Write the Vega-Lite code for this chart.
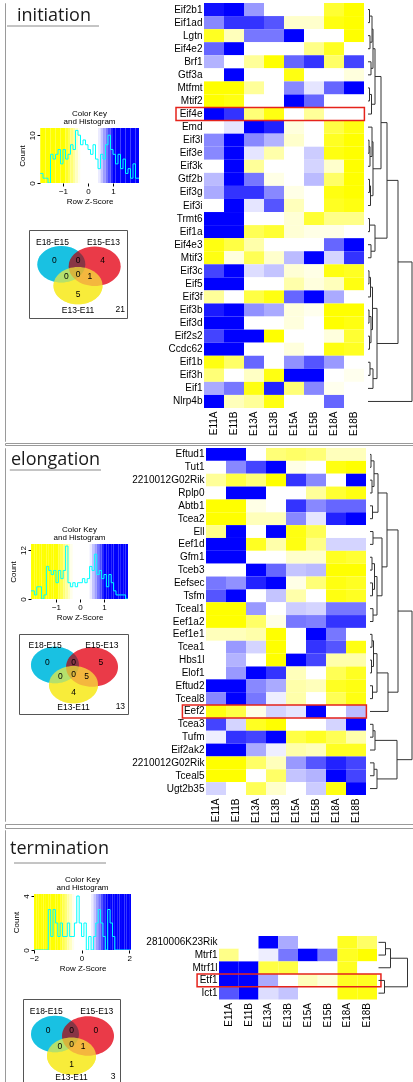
{
"$schema": "https://vega.github.io/schema/vega-lite/v6.json",
"background": "white",
"padding": {"left": 4, "top": 2, "right": 0, "bottom": 0},
"config": {
  "view": {"stroke": null},
  "font": "Liberation Sans",
  "axis": {"labelFont": "Liberation Sans", "titleFont": "Liberation Sans", "labelColor": "#000", "titleColor": "#000", "tickColor": "#000", "grid": false},
  "title": {"font": "Liberation Sans", "color": "#000"},
  "concat": {"spacing": 0}
},
"datasets": {
  "empty": [],
  "vc": [{"set": "c", "x": 33, "y": 35}, {"set": "r", "x": 67, "y": 37}, {"set": "y", "x": 50, "y": 57}],
  "vt1": [{"x": 24, "y": 12, "t": "E18-E15"}, {"x": 76, "y": 12, "t": "E15-E13"}, {"x": 26, "y": 31, "t": "0"}, {"x": 50, "y": 31, "t": "0"}, {"x": 75, "y": 31, "t": "4"}, {"x": 38, "y": 47, "t": "0"}, {"x": 50, "y": 45, "t": "0"}, {"x": 62, "y": 47, "t": "1"}, {"x": 50, "y": 65, "t": "5"}, {"x": 50, "y": 82, "t": "E13-E11"}, {"x": 93, "y": 81, "t": "21"}],
  "vt2": [{"x": 24, "y": 12, "t": "E18-E15"}, {"x": 76, "y": 12, "t": "E15-E13"}, {"x": 26, "y": 31, "t": "0"}, {"x": 50, "y": 31, "t": "0"}, {"x": 75, "y": 31, "t": "5"}, {"x": 38, "y": 47, "t": "0"}, {"x": 50, "y": 45, "t": "0"}, {"x": 62, "y": 47, "t": "5"}, {"x": 50, "y": 65, "t": "4"}, {"x": 50, "y": 82, "t": "E13-E11"}, {"x": 93, "y": 81, "t": "13"}],
  "vt3": [{"x": 24, "y": 12, "t": "E18-E15"}, {"x": 76, "y": 12, "t": "E15-E13"}, {"x": 26, "y": 31, "t": "0"}, {"x": 50, "y": 31, "t": "0"}, {"x": 75, "y": 31, "t": "0"}, {"x": 38, "y": 47, "t": "0"}, {"x": 50, "y": 45, "t": "0"}, {"x": 62, "y": 47, "t": "1"}, {"x": 50, "y": 65, "t": "1"}, {"x": 50, "y": 78, "t": "E13-E11"}, {"x": 93, "y": 77, "t": "3"}],
  "k1": [{"z0":-2.0,"z1":-1.9,"n":2},{"z0":-1.9,"z1":-1.8,"n":2},{"z0":-1.8,"z1":-1.7,"n":1},{"z0":-1.7,"z1":-1.6,"n":1},{"z0":-1.6,"z1":-1.5,"n":0},{"z0":-1.5,"z1":-1.4,"n":6},{"z0":-1.4,"z1":-1.3,"n":5},{"z0":-1.3,"z1":-1.2,"n":6},{"z0":-1.2,"z1":-1.1,"n":7},{"z0":-1.1,"z1":-1.0,"n":4},{"z0":-1.0,"z1":-0.9,"n":7},{"z0":-0.9,"z1":-0.8,"n":5},{"z0":-0.8,"z1":-0.7,"n":6},{"z0":-0.7,"z1":-0.6,"n":8},{"z0":-0.6,"z1":-0.5,"n":7},{"z0":-0.5,"z1":-0.4,"n":11},{"z0":-0.4,"z1":-0.3,"n":10},{"z0":-0.3,"z1":-0.2,"n":8},{"z0":-0.2,"z1":-0.1,"n":9},{"z0":-0.1,"z1":0.0,"n":8},{"z0":0.0,"z1":0.1,"n":7},{"z0":0.1,"z1":0.2,"n":6},{"z0":0.2,"z1":0.3,"n":8},{"z0":0.3,"z1":0.4,"n":5},{"z0":0.4,"z1":0.5,"n":3},{"z0":0.5,"z1":0.6,"n":6},{"z0":0.6,"z1":0.7,"n":5},{"z0":0.7,"z1":0.8,"n":8},{"z0":0.8,"z1":0.9,"n":10},{"z0":0.9,"z1":1.0,"n":7},{"z0":1.0,"z1":1.1,"n":6},{"z0":1.1,"z1":1.2,"n":4},{"z0":1.2,"z1":1.3,"n":6},{"z0":1.3,"z1":1.4,"n":3},{"z0":1.4,"z1":1.5,"n":5},{"z0":1.5,"z1":1.6,"n":2},{"z0":1.6,"z1":1.7,"n":3},{"z0":1.7,"z1":1.8,"n":1},{"z0":1.8,"z1":1.9,"n":4},{"z0":1.9,"z1":2.0,"n":1},{"z0":2.0,"z1":2.1,"n":1},{"z0":2.1,"z1":2.1,"n":1}],
  "k2": [{"z0":-2.1,"z1":-2.0,"n":2},{"z0":-2.0,"z1":-1.9,"n":2},{"z0":-1.9,"z1":-1.8,"n":1},{"z0":-1.8,"z1":-1.7,"n":3},{"z0":-1.7,"z1":-1.6,"n":3},{"z0":-1.6,"z1":-1.5,"n":0},{"z0":-1.5,"z1":-1.4,"n":1},{"z0":-1.4,"z1":-1.3,"n":8},{"z0":-1.3,"z1":-1.2,"n":7},{"z0":-1.2,"z1":-1.1,"n":6},{"z0":-1.1,"z1":-1.0,"n":7},{"z0":-1.0,"z1":-0.9,"n":4},{"z0":-0.9,"z1":-0.8,"n":7},{"z0":-0.8,"z1":-0.7,"n":5},{"z0":-0.7,"z1":-0.6,"n":7},{"z0":-0.6,"z1":-0.5,"n":13},{"z0":-0.5,"z1":-0.4,"n":4},{"z0":-0.4,"z1":-0.3,"n":3},{"z0":-0.3,"z1":-0.2,"n":4},{"z0":-0.2,"z1":-0.1,"n":3},{"z0":-0.1,"z1":0.0,"n":4},{"z0":0.0,"z1":0.1,"n":4},{"z0":0.1,"z1":0.2,"n":5},{"z0":0.2,"z1":0.3,"n":4},{"z0":0.3,"z1":0.4,"n":5},{"z0":0.4,"z1":0.5,"n":8},{"z0":0.5,"z1":0.6,"n":7},{"z0":0.6,"z1":0.7,"n":11},{"z0":0.7,"z1":0.8,"n":6},{"z0":0.8,"z1":0.9,"n":7},{"z0":0.9,"z1":1.0,"n":5},{"z0":1.0,"z1":1.1,"n":6},{"z0":1.1,"z1":1.2,"n":3},{"z0":1.2,"z1":1.3,"n":6},{"z0":1.3,"z1":1.4,"n":4},{"z0":1.4,"z1":1.5,"n":2},{"z0":1.5,"z1":1.6,"n":1},{"z0":1.6,"z1":1.7,"n":1},{"z0":1.7,"z1":1.8,"n":1},{"z0":1.8,"z1":1.9,"n":1},{"z0":1.9,"z1":2.0,"n":0},{"z0":2.0,"z1":2.0,"n":0}],
  "k3": [{"z0":-2.0,"z1":-1.9,"n":0},{"z0":-1.9,"z1":-1.8,"n":0},{"z0":-1.8,"z1":-1.7,"n":0},{"z0":-1.7,"z1":-1.6,"n":0},{"z0":-1.6,"z1":-1.5,"n":0},{"z0":-1.5,"z1":-1.4,"n":0},{"z0":-1.4,"z1":-1.3,"n":3},{"z0":-1.3,"z1":-1.2,"n":1},{"z0":-1.2,"z1":-1.1,"n":3},{"z0":-1.1,"z1":-1.0,"n":2},{"z0":-1.0,"z1":-0.9,"n":1},{"z0":-0.9,"z1":-0.8,"n":2},{"z0":-0.8,"z1":-0.7,"n":1},{"z0":-0.7,"z1":-0.6,"n":1},{"z0":-0.6,"z1":-0.5,"n":2},{"z0":-0.5,"z1":-0.4,"n":1},{"z0":-0.4,"z1":-0.3,"n":1},{"z0":-0.3,"z1":-0.2,"n":2},{"z0":-0.2,"z1":-0.1,"n":4},{"z0":-0.1,"z1":0.0,"n":2},{"z0":0.0,"z1":0.1,"n":1},{"z0":0.1,"z1":0.2,"n":2},{"z0":0.2,"z1":0.3,"n":0},{"z0":0.3,"z1":0.4,"n":1},{"z0":0.4,"z1":0.5,"n":0},{"z0":0.5,"z1":0.6,"n":1},{"z0":0.6,"z1":0.7,"n":2},{"z0":0.7,"z1":0.8,"n":3},{"z0":0.8,"z1":0.9,"n":2},{"z0":0.9,"z1":1.0,"n":1},{"z0":1.0,"z1":1.1,"n":0},{"z0":1.1,"z1":1.2,"n":3},{"z0":1.2,"z1":1.3,"n":2},{"z0":1.3,"z1":1.4,"n":1},{"z0":1.4,"z1":1.5,"n":0},{"z0":1.5,"z1":1.6,"n":0},{"z0":1.6,"z1":1.7,"n":0},{"z0":1.7,"z1":1.8,"n":0},{"z0":1.8,"z1":1.9,"n":0},{"z0":1.9,"z1":2.0,"n":0},{"z0":2.0,"z1":2.1,"n":0},{"z0":2.1,"z1":2.1,"n":0}],
  "d1": [{"y1":0.5,"y2":1.5,"h1":0,"h2":0,"h":1.5},{"y1":2.5,"y2":3.5,"h1":0,"h2":0,"h":2},{"y1":1.0,"y2":3.0,"h1":1.5,"h2":2,"h":4},{"y1":4.5,"y2":5.5,"h1":0,"h2":0,"h":3},{"y1":2.0,"y2":5.0,"h1":4,"h2":3,"h":5},{"y1":6.5,"y2":7.5,"h1":0,"h2":0,"h":1.5},{"y1":7.0,"y2":8.5,"h1":1.5,"h2":0,"h":3.5},{"y1":3.5,"y2":7.75,"h1":5,"h2":3.5,"h":7},{"y1":10.5,"y2":11.5,"h1":0,"h2":0,"h":1},{"y1":11.0,"y2":12.5,"h1":1,"h2":0,"h":2},{"y1":9.5,"y2":11.75,"h1":0,"h2":2,"h":4},{"y1":13.5,"y2":14.5,"h1":0,"h2":0,"h":1.5},{"y1":14.0,"y2":15.5,"h1":1.5,"h2":0,"h":2.5},{"y1":10.625,"y2":14.75,"h1":4,"h2":2.5,"h":5},{"y1":5.625,"y2":12.6875,"h1":7,"h2":5,"h":13},{"y1":16.5,"y2":17.5,"h1":0,"h2":0,"h":1.5},{"y1":18.5,"y2":19.5,"h1":0,"h2":0,"h":3},{"y1":17.0,"y2":19.0,"h1":1.5,"h2":3,"h":7},{"y1":9.156,"y2":18.0,"h1":13,"h2":7,"h":19},{"y1":20.5,"y2":21.5,"h1":0,"h2":0,"h":1},{"y1":21.0,"y2":22.5,"h1":1,"h2":0,"h":2.5},{"y1":23.5,"y2":24.5,"h1":0,"h2":0,"h":1},{"y1":25.5,"y2":26.5,"h1":0,"h2":0,"h":1.5},{"y1":24.0,"y2":26.0,"h1":1,"h2":1.5,"h":3},{"y1":21.75,"y2":25.0,"h1":2.5,"h2":3,"h":4.5},{"y1":27.5,"y2":28.5,"h1":0,"h2":0,"h":2},{"y1":28.0,"y2":29.5,"h1":2,"h2":0,"h":5},{"y1":23.375,"y2":28.75,"h1":4.5,"h2":5,"h":9},{"y1":13.578,"y2":26.0625,"h1":19,"h2":9,"h":30},{"y1":19.82,"y2":30.5,"h1":30,"h2":0,"h":44}],
  "d2": [{"y1":0.5,"y2":1.5,"h1":0,"h2":0,"h":1},{"y1":2.5,"y2":3.5,"h1":0,"h2":0,"h":2},{"y1":1.0,"y2":3.0,"h1":1,"h2":2,"h":4},{"y1":4.5,"y2":5.5,"h1":0,"h2":0,"h":2.5},{"y1":2.0,"y2":5.0,"h1":4,"h2":2.5,"h":8},{"y1":6.5,"y2":7.5,"h1":0,"h2":0,"h":3},{"y1":8.5,"y2":9.5,"h1":0,"h2":0,"h":2},{"y1":10.5,"y2":11.5,"h1":0,"h2":0,"h":2.5},{"y1":9.0,"y2":11.0,"h1":2,"h2":2.5,"h":4.5},{"y1":12.5,"y2":13.5,"h1":0,"h2":0,"h":3},{"y1":10.0,"y2":13.0,"h1":4.5,"h2":3,"h":7},{"y1":7.0,"y2":11.5,"h1":3,"h2":7,"h":12},{"y1":3.5,"y2":9.25,"h1":8,"h2":12,"h":17},{"y1":14.5,"y2":15.5,"h1":0,"h2":0,"h":2},{"y1":16.5,"y2":17.5,"h1":0,"h2":0,"h":1.5},{"y1":15.0,"y2":17.0,"h1":2,"h2":1.5,"h":3.5},{"y1":18.5,"y2":19.5,"h1":0,"h2":0,"h":2.5},{"y1":16.0,"y2":19.0,"h1":3.5,"h2":2.5,"h":7},{"y1":17.5,"y2":20.5,"h1":7,"h2":0,"h":18},{"y1":6.375,"y2":19.0,"h1":17,"h2":18,"h":28},{"y1":21.5,"y2":22.5,"h1":0,"h2":0,"h":3},{"y1":22.0,"y2":23.5,"h1":3,"h2":0,"h":5},{"y1":24.5,"y2":25.5,"h1":0,"h2":0,"h":4},{"y1":25.0,"y2":26.5,"h1":4,"h2":0,"h":7},{"y1":22.75,"y2":25.75,"h1":5,"h2":7,"h":27},{"y1":12.6875,"y2":24.25,"h1":28,"h2":27,"h":42}],
  "d3": [{"y1":0.5,"y2":1.5,"h1":0,"h2":0,"h":7},{"y1":1.0,"y2":2.5,"h1":7,"h2":0,"h":12},{"y1":3.5,"y2":4.5,"h1":0,"h2":0,"h":6},{"y1":1.75,"y2":4.0,"h1":12,"h2":6,"h":29}],
  "h1": [
{"g":"Eif2b1","s":"E11A","v":1.4},{"g":"Eif2b1","s":"E11B","v":1.5},{"g":"Eif2b1","s":"E13A","v":0.6},{"g":"Eif2b1","s":"E13B","v":0},{"g":"Eif2b1","s":"E15A","v":0},{"g":"Eif2b1","s":"E15B","v":0},{"g":"Eif2b1","s":"E18A","v":-1.2},{"g":"Eif2b1","s":"E18B","v":-1.5},
{"g":"Eif1ad","s":"E11A","v":0.7},{"g":"Eif1ad","s":"E11B","v":1.2},{"g":"Eif1ad","s":"E13A","v":1.2},{"g":"Eif1ad","s":"E13B","v":1.0},{"g":"Eif1ad","s":"E15A","v":-0.3},{"g":"Eif1ad","s":"E15B","v":-0.3},{"g":"Eif1ad","s":"E18A","v":-1.4},{"g":"Eif1ad","s":"E18B","v":-1.5},
{"g":"Lgtn","s":"E11A","v":-1.3},{"g":"Lgtn","s":"E11B","v":-0.4},{"g":"Lgtn","s":"E13A","v":0.8},{"g":"Lgtn","s":"E13B","v":0.8},{"g":"Lgtn","s":"E15A","v":1.5},{"g":"Lgtn","s":"E15B","v":0},{"g":"Lgtn","s":"E18A","v":0},{"g":"Lgtn","s":"E18B","v":-1.5},
{"g":"Eif4e2","s":"E11A","v":0.9},{"g":"Eif4e2","s":"E11B","v":1.5},{"g":"Eif4e2","s":"E13A","v":0},{"g":"Eif4e2","s":"E13B","v":0},{"g":"Eif4e2","s":"E15A","v":0},{"g":"Eif4e2","s":"E15B","v":-0.7},{"g":"Eif4e2","s":"E18A","v":-1.3},{"g":"Eif4e2","s":"E18B","v":0},
{"g":"Brf1","s":"E11A","v":0.45},{"g":"Brf1","s":"E11B","v":0},{"g":"Brf1","s":"E13A","v":-0.6},{"g":"Brf1","s":"E13B","v":-1.5},{"g":"Brf1","s":"E15A","v":0.9},{"g":"Brf1","s":"E15B","v":1.2},{"g":"Brf1","s":"E18A","v":-0.9},{"g":"Brf1","s":"E18B","v":1.1},
{"g":"Gtf3a","s":"E11A","v":0},{"g":"Gtf3a","s":"E11B","v":1.5},{"g":"Gtf3a","s":"E13A","v":0},{"g":"Gtf3a","s":"E13B","v":0},{"g":"Gtf3a","s":"E15A","v":-1.4},{"g":"Gtf3a","s":"E15B","v":0},{"g":"Gtf3a","s":"E18A","v":0},{"g":"Gtf3a","s":"E18B","v":-0.2},
{"g":"Mtfmt","s":"E11A","v":-1.5},{"g":"Mtfmt","s":"E11B","v":-1.5},{"g":"Mtfmt","s":"E13A","v":-0.6},{"g":"Mtfmt","s":"E13B","v":0},{"g":"Mtfmt","s":"E15A","v":0.7},{"g":"Mtfmt","s":"E15B","v":0.15},{"g":"Mtfmt","s":"E18A","v":0.9},{"g":"Mtfmt","s":"E18B","v":1.5},
{"g":"Mtif2","s":"E11A","v":-1.5},{"g":"Mtif2","s":"E11B","v":-1.4},{"g":"Mtif2","s":"E13A","v":0},{"g":"Mtif2","s":"E13B","v":0},{"g":"Mtif2","s":"E15A","v":1.5},{"g":"Mtif2","s":"E15B","v":0.9},{"g":"Mtif2","s":"E18A","v":0},{"g":"Mtif2","s":"E18B","v":0},
{"g":"Eif4e","s":"E11A","v":1.5},{"g":"Eif4e","s":"E11B","v":1.2},{"g":"Eif4e","s":"E13A","v":-0.8},{"g":"Eif4e","s":"E13B","v":-1.4},{"g":"Eif4e","s":"E15A","v":0},{"g":"Eif4e","s":"E15B","v":-0.6},{"g":"Eif4e","s":"E18A","v":0},{"g":"Eif4e","s":"E18B","v":0},
{"g":"Emd","s":"E11A","v":0},{"g":"Emd","s":"E11B","v":0.15},{"g":"Emd","s":"E13A","v":1.5},{"g":"Emd","s":"E13B","v":1.3},{"g":"Emd","s":"E15A","v":-0.2},{"g":"Emd","s":"E15B","v":0},{"g":"Emd","s":"E18A","v":-1.1},{"g":"Emd","s":"E18B","v":-1.4},
{"g":"Eif3l","s":"E11A","v":0.7},{"g":"Eif3l","s":"E11B","v":1.5},{"g":"Eif3l","s":"E13A","v":0.7},{"g":"Eif3l","s":"E13B","v":0.45},{"g":"Eif3l","s":"E15A","v":-0.3},{"g":"Eif3l","s":"E15B","v":0},{"g":"Eif3l","s":"E18A","v":-1.3},{"g":"Eif3l","s":"E18B","v":-1.5},
{"g":"Eif3e","s":"E11A","v":0.7},{"g":"Eif3e","s":"E11B","v":1.5},{"g":"Eif3e","s":"E13A","v":0.15},{"g":"Eif3e","s":"E13B","v":-0.5},{"g":"Eif3e","s":"E15A","v":0},{"g":"Eif3e","s":"E15B","v":0.3},{"g":"Eif3e","s":"E18A","v":-1.4},{"g":"Eif3e","s":"E18B","v":-1.5},
{"g":"Eif3k","s":"E11A","v":0},{"g":"Eif3k","s":"E11B","v":1.5},{"g":"Eif3k","s":"E13A","v":-0.6},{"g":"Eif3k","s":"E13B","v":0},{"g":"Eif3k","s":"E15A","v":0},{"g":"Eif3k","s":"E15B","v":0.25},{"g":"Eif3k","s":"E18A","v":-0.3},{"g":"Eif3k","s":"E18B","v":-1.5},
{"g":"Gtf2b","s":"E11A","v":0.4},{"g":"Gtf2b","s":"E11B","v":1.5},{"g":"Gtf2b","s":"E13A","v":0.8},{"g":"Gtf2b","s":"E13B","v":-0.15},{"g":"Gtf2b","s":"E15A","v":0},{"g":"Gtf2b","s":"E15B","v":0.4},{"g":"Gtf2b","s":"E18A","v":-0.9},{"g":"Gtf2b","s":"E18B","v":-1.5},
{"g":"Eif3g","s":"E11A","v":0.5},{"g":"Eif3g","s":"E11B","v":1.2},{"g":"Eif3g","s":"E13A","v":1.2},{"g":"Eif3g","s":"E13B","v":0.7},{"g":"Eif3g","s":"E15A","v":-0.15},{"g":"Eif3g","s":"E15B","v":0},{"g":"Eif3g","s":"E18A","v":-1.4},{"g":"Eif3g","s":"E18B","v":-1.5},
{"g":"Eif3i","s":"E11A","v":0},{"g":"Eif3i","s":"E11B","v":1.5},{"g":"Eif3i","s":"E13A","v":0.15},{"g":"Eif3i","s":"E13B","v":1.0},{"g":"Eif3i","s":"E15A","v":-0.4},{"g":"Eif3i","s":"E15B","v":0},{"g":"Eif3i","s":"E18A","v":-1.3},{"g":"Eif3i","s":"E18B","v":-1.4},
{"g":"Trmt6","s":"E11A","v":1.5},{"g":"Trmt6","s":"E11B","v":1.5},{"g":"Trmt6","s":"E13A","v":0},{"g":"Trmt6","s":"E13B","v":0},{"g":"Trmt6","s":"E15A","v":-0.25},{"g":"Trmt6","s":"E15B","v":-1.2},{"g":"Trmt6","s":"E18A","v":-0.7},{"g":"Trmt6","s":"E18B","v":-0.7},
{"g":"Eif1a","s":"E11A","v":1.5},{"g":"Eif1a","s":"E11B","v":1.5},{"g":"Eif1a","s":"E13A","v":-1.0},{"g":"Eif1a","s":"E13B","v":-1.2},{"g":"Eif1a","s":"E15A","v":-0.25},{"g":"Eif1a","s":"E15B","v":-0.15},{"g":"Eif1a","s":"E18A","v":-0.15},{"g":"Eif1a","s":"E18B","v":0},
{"g":"Eif4e3","s":"E11A","v":-1.4},{"g":"Eif4e3","s":"E11B","v":-1.1},{"g":"Eif4e3","s":"E13A","v":-0.5},{"g":"Eif4e3","s":"E13B","v":0},{"g":"Eif4e3","s":"E15A","v":0},{"g":"Eif4e3","s":"E15B","v":0},{"g":"Eif4e3","s":"E18A","v":0.9},{"g":"Eif4e3","s":"E18B","v":1.5},
{"g":"Mtif3","s":"E11A","v":-1.4},{"g":"Mtif3","s":"E11B","v":-0.2},{"g":"Mtif3","s":"E13A","v":-1.0},{"g":"Mtif3","s":"E13B","v":-0.3},{"g":"Mtif3","s":"E15A","v":0.4},{"g":"Mtif3","s":"E15B","v":1.5},{"g":"Mtif3","s":"E18A","v":0.25},{"g":"Mtif3","s":"E18B","v":1.2},
{"g":"Eif3c","s":"E11A","v":1.1},{"g":"Eif3c","s":"E11B","v":1.5},{"g":"Eif3c","s":"E13A","v":0.2},{"g":"Eif3c","s":"E13B","v":0.35},{"g":"Eif3c","s":"E15A","v":-0.25},{"g":"Eif3c","s":"E15B","v":-0.15},{"g":"Eif3c","s":"E18A","v":-1.4},{"g":"Eif3c","s":"E18B","v":-1.3},
{"g":"Eif5","s":"E11A","v":1.5},{"g":"Eif5","s":"E11B","v":1.5},{"g":"Eif5","s":"E13A","v":0},{"g":"Eif5","s":"E13B","v":0},{"g":"Eif5","s":"E15A","v":-0.5},{"g":"Eif5","s":"E15B","v":-0.2},{"g":"Eif5","s":"E18A","v":-0.4},{"g":"Eif5","s":"E18B","v":-1.4},
{"g":"Eif3f","s":"E11A","v":-0.6},{"g":"Eif3f","s":"E11B","v":0},{"g":"Eif3f","s":"E13A","v":-1.1},{"g":"Eif3f","s":"E13B","v":-1.4},{"g":"Eif3f","s":"E15A","v":0.9},{"g":"Eif3f","s":"E15B","v":1.5},{"g":"Eif3f","s":"E18A","v":0.5},{"g":"Eif3f","s":"E18B","v":0},
{"g":"Eif3b","s":"E11A","v":1.35},{"g":"Eif3b","s":"E11B","v":1.5},{"g":"Eif3b","s":"E13A","v":0.65},{"g":"Eif3b","s":"E13B","v":0.5},{"g":"Eif3b","s":"E15A","v":-0.2},{"g":"Eif3b","s":"E15B","v":-0.1},{"g":"Eif3b","s":"E18A","v":-1.5},{"g":"Eif3b","s":"E18B","v":-1.5},
{"g":"Eif3d","s":"E11A","v":1.5},{"g":"Eif3d","s":"E11B","v":1.5},{"g":"Eif3d","s":"E13A","v":0},{"g":"Eif3d","s":"E13B","v":0},{"g":"Eif3d","s":"E15A","v":-0.2},{"g":"Eif3d","s":"E15B","v":0},{"g":"Eif3d","s":"E18A","v":-1.5},{"g":"Eif3d","s":"E18B","v":-1.4},
{"g":"Eif2s2","s":"E11A","v":1.1},{"g":"Eif2s2","s":"E11B","v":1.5},{"g":"Eif2s2","s":"E13A","v":1.5},{"g":"Eif2s2","s":"E13B","v":-1.5},{"g":"Eif2s2","s":"E15A","v":0},{"g":"Eif2s2","s":"E15B","v":0},{"g":"Eif2s2","s":"E18A","v":-0.2},{"g":"Eif2s2","s":"E18B","v":-1.2},
{"g":"Ccdc62","s":"E11A","v":1.5},{"g":"Ccdc62","s":"E11B","v":1.5},{"g":"Ccdc62","s":"E13A","v":0},{"g":"Ccdc62","s":"E13B","v":0},{"g":"Ccdc62","s":"E15A","v":-0.2},{"g":"Ccdc62","s":"E15B","v":0},{"g":"Ccdc62","s":"E18A","v":-1.4},{"g":"Ccdc62","s":"E18B","v":-1.3},
{"g":"Eif1b","s":"E11A","v":-1.4},{"g":"Eif1b","s":"E11B","v":-0.9},{"g":"Eif1b","s":"E13A","v":0.9},{"g":"Eif1b","s":"E13B","v":0},{"g":"Eif1b","s":"E15A","v":0.65},{"g":"Eif1b","s":"E15B","v":1.0},{"g":"Eif1b","s":"E18A","v":0.6},{"g":"Eif1b","s":"E18B","v":0},
{"g":"Eif3h","s":"E11A","v":-0.8},{"g":"Eif3h","s":"E11B","v":0},{"g":"Eif3h","s":"E13A","v":-0.35},{"g":"Eif3h","s":"E13B","v":-1.4},{"g":"Eif3h","s":"E15A","v":1.5},{"g":"Eif3h","s":"E15B","v":1.5},{"g":"Eif3h","s":"E18A","v":0},{"g":"Eif3h","s":"E18B","v":-0.1},
{"g":"Eif1","s":"E11A","v":0.5},{"g":"Eif1","s":"E11B","v":0.8},{"g":"Eif1","s":"E13A","v":-1.4},{"g":"Eif1","s":"E13B","v":1.3},{"g":"Eif1","s":"E15A","v":-0.8},{"g":"Eif1","s":"E15B","v":0.7},{"g":"Eif1","s":"E18A","v":-0.1},{"g":"Eif1","s":"E18B","v":0},
{"g":"Nlrp4b","s":"E11A","v":1.5},{"g":"Nlrp4b","s":"E11B","v":-0.4},{"g":"Nlrp4b","s":"E13A","v":-0.6},{"g":"Nlrp4b","s":"E13B","v":-1.4},{"g":"Nlrp4b","s":"E15A","v":0},{"g":"Nlrp4b","s":"E15B","v":0},{"g":"Nlrp4b","s":"E18A","v":0.9},{"g":"Nlrp4b","s":"E18B","v":0}
  ],
  "h2": [
{"g":"Eftud1","s":"E11A","v":1.5},{"g":"Eftud1","s":"E11B","v":1.5},{"g":"Eftud1","s":"E13A","v":0},{"g":"Eftud1","s":"E13B","v":-0.8},{"g":"Eftud1","s":"E15A","v":-0.9},{"g":"Eftud1","s":"E15B","v":-0.8},{"g":"Eftud1","s":"E18A","v":-0.4},{"g":"Eftud1","s":"E18B","v":-0.4},
{"g":"Tut1","s":"E11A","v":0},{"g":"Tut1","s":"E11B","v":0.7},{"g":"Tut1","s":"E13A","v":1.1},{"g":"Tut1","s":"E13B","v":1.5},{"g":"Tut1","s":"E15A","v":-0.15},{"g":"Tut1","s":"E15B","v":0},{"g":"Tut1","s":"E18A","v":-1.4},{"g":"Tut1","s":"E18B","v":-1.5},
{"g":"2210012G02Rik","s":"E11A","v":-0.6},{"g":"2210012G02Rik","s":"E11B","v":-1.1},{"g":"2210012G02Rik","s":"E13A","v":-0.8},{"g":"2210012G02Rik","s":"E13B","v":-1.5},{"g":"2210012G02Rik","s":"E15A","v":1.2},{"g":"2210012G02Rik","s":"E15B","v":0.7},{"g":"2210012G02Rik","s":"E18A","v":0},{"g":"2210012G02Rik","s":"E18B","v":1.5},
{"g":"Rplp0","s":"E11A","v":0},{"g":"Rplp0","s":"E11B","v":1.5},{"g":"Rplp0","s":"E13A","v":1.5},{"g":"Rplp0","s":"E13B","v":0},{"g":"Rplp0","s":"E15A","v":0},{"g":"Rplp0","s":"E15B","v":-0.6},{"g":"Rplp0","s":"E18A","v":-1.2},{"g":"Rplp0","s":"E18B","v":-1.4},
{"g":"Abtb1","s":"E11A","v":-1.5},{"g":"Abtb1","s":"E11B","v":-1.5},{"g":"Abtb1","s":"E13A","v":-0.15},{"g":"Abtb1","s":"E13B","v":0},{"g":"Abtb1","s":"E15A","v":1.2},{"g":"Abtb1","s":"E15B","v":0.7},{"g":"Abtb1","s":"E18A","v":0.9},{"g":"Abtb1","s":"E18B","v":0.9},
{"g":"Tcea2","s":"E11A","v":-1.5},{"g":"Tcea2","s":"E11B","v":-1.5},{"g":"Tcea2","s":"E13A","v":-0.4},{"g":"Tcea2","s":"E13B","v":-0.4},{"g":"Tcea2","s":"E15A","v":0.7},{"g":"Tcea2","s":"E15B","v":0.15},{"g":"Tcea2","s":"E18A","v":1.3},{"g":"Tcea2","s":"E18B","v":1.5},
{"g":"Ell","s":"E11A","v":-0.7},{"g":"Ell","s":"E11B","v":1.5},{"g":"Ell","s":"E13A","v":0},{"g":"Ell","s":"E13B","v":1.5},{"g":"Ell","s":"E15A","v":-1.4},{"g":"Ell","s":"E15B","v":-1.0},{"g":"Ell","s":"E18A","v":0},{"g":"Ell","s":"E18B","v":0},
{"g":"Eef1d","s":"E11A","v":1.5},{"g":"Eef1d","s":"E11B","v":1.5},{"g":"Eef1d","s":"E13A","v":-1.3},{"g":"Eef1d","s":"E13B","v":-0.5},{"g":"Eef1d","s":"E15A","v":-1.4},{"g":"Eef1d","s":"E15B","v":-0.7},{"g":"Eef1d","s":"E18A","v":0.25},{"g":"Eef1d","s":"E18B","v":0.25},
{"g":"Gfm1","s":"E11A","v":1.5},{"g":"Gfm1","s":"E11B","v":1.5},{"g":"Gfm1","s":"E13A","v":0},{"g":"Gfm1","s":"E13B","v":0},{"g":"Gfm1","s":"E15A","v":-0.3},{"g":"Gfm1","s":"E15B","v":-0.3},{"g":"Gfm1","s":"E18A","v":-1.3},{"g":"Gfm1","s":"E18B","v":-1.2},
{"g":"Tceb3","s":"E11A","v":0},{"g":"Tceb3","s":"E11B","v":0},{"g":"Tceb3","s":"E13A","v":1.5},{"g":"Tceb3","s":"E13B","v":0.9},{"g":"Tceb3","s":"E15A","v":0.35},{"g":"Tceb3","s":"E15B","v":0.4},{"g":"Tceb3","s":"E18A","v":-1.5},{"g":"Tceb3","s":"E18B","v":-1.5},
{"g":"Eefsec","s":"E11A","v":0.8},{"g":"Eefsec","s":"E11B","v":0.65},{"g":"Eefsec","s":"E13A","v":1.3},{"g":"Eefsec","s":"E13B","v":1.5},{"g":"Eefsec","s":"E15A","v":-0.15},{"g":"Eefsec","s":"E15B","v":-0.8},{"g":"Eefsec","s":"E18A","v":-1.4},{"g":"Eefsec","s":"E18B","v":-1.3},
{"g":"Tsfm","s":"E11A","v":1.0},{"g":"Tsfm","s":"E11B","v":1.5},{"g":"Tsfm","s":"E13A","v":0},{"g":"Tsfm","s":"E13B","v":0.35},{"g":"Tsfm","s":"E15A","v":-0.5},{"g":"Tsfm","s":"E15B","v":0},{"g":"Tsfm","s":"E18A","v":-1.4},{"g":"Tsfm","s":"E18B","v":-1.3},
{"g":"Tceal1","s":"E11A","v":-1.5},{"g":"Tceal1","s":"E11B","v":-1.5},{"g":"Tceal1","s":"E13A","v":0.6},{"g":"Tceal1","s":"E13B","v":0},{"g":"Tceal1","s":"E15A","v":0.3},{"g":"Tceal1","s":"E15B","v":0.25},{"g":"Tceal1","s":"E18A","v":0.8},{"g":"Tceal1","s":"E18B","v":0.8},
{"g":"Eef1a2","s":"E11A","v":-1.5},{"g":"Eef1a2","s":"E11B","v":-1.5},{"g":"Eef1a2","s":"E13A","v":-0.9},{"g":"Eef1a2","s":"E13B","v":-0.15},{"g":"Eef1a2","s":"E15A","v":0.8},{"g":"Eef1a2","s":"E15B","v":0.75},{"g":"Eef1a2","s":"E18A","v":1.2},{"g":"Eef1a2","s":"E18B","v":1.2},
{"g":"Eef1e1","s":"E11A","v":-0.4},{"g":"Eef1e1","s":"E11B","v":-0.4},{"g":"Eef1e1","s":"E13A","v":-0.5},{"g":"Eef1e1","s":"E13B","v":-1.5},{"g":"Eef1e1","s":"E15A","v":0},{"g":"Eef1e1","s":"E15B","v":1.5},{"g":"Eef1e1","s":"E18A","v":0.8},{"g":"Eef1e1","s":"E18B","v":0},
{"g":"Tcea1","s":"E11A","v":0},{"g":"Tcea1","s":"E11B","v":0.6},{"g":"Tcea1","s":"E13A","v":0.25},{"g":"Tcea1","s":"E13B","v":-1.5},{"g":"Tcea1","s":"E15A","v":0},{"g":"Tcea1","s":"E15B","v":1.2},{"g":"Tcea1","s":"E18A","v":1.0},{"g":"Tcea1","s":"E18B","v":-1.4},
{"g":"Hbs1l","s":"E11A","v":0},{"g":"Hbs1l","s":"E11B","v":0.45},{"g":"Hbs1l","s":"E13A","v":0},{"g":"Hbs1l","s":"E13B","v":-1.5},{"g":"Hbs1l","s":"E15A","v":1.5},{"g":"Hbs1l","s":"E15B","v":1.1},{"g":"Hbs1l","s":"E18A","v":-0.5},{"g":"Hbs1l","s":"E18B","v":-0.5},
{"g":"Elof1","s":"E11A","v":0},{"g":"Elof1","s":"E11B","v":0.6},{"g":"Elof1","s":"E13A","v":1.5},{"g":"Elof1","s":"E13B","v":1.2},{"g":"Elof1","s":"E15A","v":-0.4},{"g":"Elof1","s":"E15B","v":0},{"g":"Elof1","s":"E18A","v":-1.0},{"g":"Elof1","s":"E18B","v":-1.3},
{"g":"Eftud2","s":"E11A","v":1.5},{"g":"Eftud2","s":"E11B","v":1.5},{"g":"Eftud2","s":"E13A","v":0.7},{"g":"Eftud2","s":"E13B","v":0.5},{"g":"Eftud2","s":"E15A","v":-0.5},{"g":"Eftud2","s":"E15B","v":-0.4},{"g":"Eftud2","s":"E18A","v":-1.3},{"g":"Eftud2","s":"E18B","v":-1.4},
{"g":"Tceal8","s":"E11A","v":0.7},{"g":"Tceal8","s":"E11B","v":1.5},{"g":"Tceal8","s":"E13A","v":0.8},{"g":"Tceal8","s":"E13B","v":0.1},{"g":"Tceal8","s":"E15A","v":-0.5},{"g":"Tceal8","s":"E15B","v":0},{"g":"Tceal8","s":"E18A","v":-1.0},{"g":"Tceal8","s":"E18B","v":-1.4},
{"g":"Eef2","s":"E11A","v":-1.4},{"g":"Eef2","s":"E11B","v":-1.1},{"g":"Eef2","s":"E13A","v":-0.15},{"g":"Eef2","s":"E13B","v":0.25},{"g":"Eef2","s":"E15A","v":0.15},{"g":"Eef2","s":"E15B","v":1.5},{"g":"Eef2","s":"E18A","v":0},{"g":"Eef2","s":"E18B","v":0.4},
{"g":"Tcea3","s":"E11A","v":1.1},{"g":"Tcea3","s":"E11B","v":0.25},{"g":"Tcea3","s":"E13A","v":-1.3},{"g":"Tcea3","s":"E13B","v":-1.5},{"g":"Tcea3","s":"E15A","v":0},{"g":"Tcea3","s":"E15B","v":0},{"g":"Tcea3","s":"E18A","v":0.25},{"g":"Tcea3","s":"E18B","v":1.5},
{"g":"Tufm","s":"E11A","v":0.1},{"g":"Tufm","s":"E11B","v":1.2},{"g":"Tufm","s":"E13A","v":1.1},{"g":"Tufm","s":"E13B","v":1.5},{"g":"Tufm","s":"E15A","v":-1.1},{"g":"Tufm","s":"E15B","v":-1.3},{"g":"Tufm","s":"E18A","v":-1.0},{"g":"Tufm","s":"E18B","v":-0.5},
{"g":"Eif2ak2","s":"E11A","v":1.5},{"g":"Eif2ak2","s":"E11B","v":1.5},{"g":"Eif2ak2","s":"E13A","v":0.5},{"g":"Eif2ak2","s":"E13B","v":0.1},{"g":"Eif2ak2","s":"E15A","v":-0.5},{"g":"Eif2ak2","s":"E15B","v":-0.4},{"g":"Eif2ak2","s":"E18A","v":-1.3},{"g":"Eif2ak2","s":"E18B","v":-1.3},
{"g":"2210012G02Rik\u200b","s":"E11A","v":-1.5},{"g":"2210012G02Rik\u200b","s":"E11B","v":-1.5},{"g":"2210012G02Rik\u200b","s":"E13A","v":-0.9},{"g":"2210012G02Rik\u200b","s":"E13B","v":-0.4},{"g":"2210012G02Rik\u200b","s":"E15A","v":0.6},{"g":"2210012G02Rik\u200b","s":"E15B","v":1.0},{"g":"2210012G02Rik\u200b","s":"E18A","v":1.3},{"g":"2210012G02Rik\u200b","s":"E18B","v":1.1},
{"g":"Tceal5","s":"E11A","v":-1.5},{"g":"Tceal5","s":"E11B","v":-1.5},{"g":"Tceal5","s":"E13A","v":0},{"g":"Tceal5","s":"E13B","v":-0.9},{"g":"Tceal5","s":"E15A","v":0.35},{"g":"Tceal5","s":"E15B","v":0.45},{"g":"Tceal5","s":"E18A","v":1.5},{"g":"Tceal5","s":"E18B","v":1.1},
{"g":"Ugt2b35","s":"E11A","v":0.25},{"g":"Ugt2b35","s":"E11B","v":0},{"g":"Ugt2b35","s":"E13A","v":-1.0},{"g":"Ugt2b35","s":"E13B","v":-0.3},{"g":"Ugt2b35","s":"E15A","v":0},{"g":"Ugt2b35","s":"E15B","v":0.3},{"g":"Ugt2b35","s":"E18A","v":-1.4},{"g":"Ugt2b35","s":"E18B","v":1.5}
  ],
  "h3": [
{"g":"2810006K23Rik","s":"E11A","v":0},{"g":"2810006K23Rik","s":"E11B","v":0},{"g":"2810006K23Rik","s":"E13A","v":1.5},{"g":"2810006K23Rik","s":"E13B","v":0.5},{"g":"2810006K23Rik","s":"E15A","v":0},{"g":"2810006K23Rik","s":"E15B","v":0},{"g":"2810006K23Rik","s":"E18A","v":-1.3},{"g":"2810006K23Rik","s":"E18B","v":-0.9},
{"g":"Mtrf1","s":"E11A","v":-0.7},{"g":"Mtrf1","s":"E11B","v":0},{"g":"Mtrf1","s":"E13A","v":0.1},{"g":"Mtrf1","s":"E13B","v":0.8},{"g":"Mtrf1","s":"E15A","v":1.5},{"g":"Mtrf1","s":"E15B","v":0.8},{"g":"Mtrf1","s":"E18A","v":-1.3},{"g":"Mtrf1","s":"E18B","v":-1.5},
{"g":"Mtrf1l","s":"E11A","v":1.5},{"g":"Mtrf1l","s":"E11B","v":1.5},{"g":"Mtrf1l","s":"E13A","v":-1.1},{"g":"Mtrf1l","s":"E13B","v":-1.1},{"g":"Mtrf1l","s":"E15A","v":0},{"g":"Mtrf1l","s":"E15B","v":0},{"g":"Mtrf1l","s":"E18A","v":-1.3},{"g":"Mtrf1l","s":"E18B","v":0},
{"g":"Etf1","s":"E11A","v":1.5},{"g":"Etf1","s":"E11B","v":1.5},{"g":"Etf1","s":"E13A","v":0.5},{"g":"Etf1","s":"E13B","v":0},{"g":"Etf1","s":"E15A","v":-0.4},{"g":"Etf1","s":"E15B","v":-0.2},{"g":"Etf1","s":"E18A","v":-1.3},{"g":"Etf1","s":"E18B","v":-1.3},
{"g":"Ict1","s":"E11A","v":1.0},{"g":"Ict1","s":"E11B","v":1.5},{"g":"Ict1","s":"E13A","v":0.2},{"g":"Ict1","s":"E13B","v":0.35},{"g":"Ict1","s":"E15A","v":0},{"g":"Ict1","s":"E15B","v":0},{"g":"Ict1","s":"E18A","v":-1.4},{"g":"Ict1","s":"E18B","v":-1.4}
  ]
},
"spacing": 0,
"bounds": "full",
"vconcat": [
 {"hconcat": [
   {"width": 0.01, "height": 438, "data": {"name": "empty"}, "mark": "point", "view": {"stroke": "#9a9a9a"}},
   {"vconcat": [
     {"width": 92, "height": 23, "data": {"values": [{"t": "initiation"}]}, "layer": [
       {"mark": {"type": "text", "align": "left", "baseline": "alphabetic", "font": "Open Sans", "fontSize": 18, "dx": 10, "dy": -5, "color": "#1a1a1a"},
        "encoding": {"text": {"field": "t"}, "x": {"datum": 0, "type": "quantitative", "scale": {"domain": [0, 1]}, "axis": null}, "y": {"datum": 0, "type": "quantitative", "scale": {"domain": [0, 1]}, "axis": null}}},
       {"mark": {"type": "rule", "color": "#8a8a8a", "strokeWidth": 1},
        "encoding": {"x": {"datum": 0, "type": "quantitative"}, "x2": {"datum": 1}, "y": {"datum": 0, "type": "quantitative"}}}
     ]},
     {"width": 1, "height": 82.5, "data": {"name": "empty"}, "mark": "point"},
     {"hconcat": [
       {"width": 33, "height": 1, "data": {"name": "empty"}, "mark": "point"},
       {"width": 99, "height": 55, "data": {"name": "k1"},
        "title": {"text": ["Color Key", "and Histogram"], "fontSize": 8, "fontWeight": "normal", "offset": 2, "lineHeight": 8, "anchor": "middle"},
        "layer": [
          {"mark": {"type": "rect", "clip": true}, "encoding": {
            "x": {"field": "z0", "type": "quantitative", "scale": {"domain": [-1.92, 2.04], "nice": false, "zero": false}, "axis": {"values": [-1, 0, 1], "title": "Row Z-Score", "tickSize": 3, "labelPadding": 1, "titlePadding": 2, "domain": false, "labelFontSize": 8, "titleFontSize": 8, "titleFontWeight": "normal", "labelFlush": false}},
            "x2": {"field": "z1"},
            "y": {"datum": 0, "type": "quantitative"}, "y2": {"datum": 11.5},
            "fill": {"field": "z0", "type": "quantitative", "scale": {"type": "linear", "domain": [-1.0, -0.35, 0.35, 1.0], "range": ["#ffff00", "#ffffff", "#ffffff", "#0000ff"], "interpolate": "rgb", "clamp": true}, "legend": null}}},
          {"mark": {"type": "line", "interpolate": "step-after", "color": "#00ffff", "strokeWidth": 1, "clip": true}, "encoding": {
            "x": {"field": "z0", "type": "quantitative"},
            "y": {"field": "n", "type": "quantitative", "scale": {"domain": [0, 11.5], "nice": false}, "axis": {"values": [0, 2, 4, 6, 8, 10], "title": "Count", "tickSize": 3, "labelPadding": 1, "titlePadding": 2, "domain": false, "labelFontSize": 8, "titleFontSize": 8, "titleFontWeight": "normal", "labelAngle": -90, "labelAlign": "center", "labelBaseline": "bottom", "labelOverlap": false}}}}
        ]}
     ], "spacing": 0, "bounds": "flush"},
     {"width": 1, "height": 24, "data": {"name": "empty"}, "mark": "point"},
     {"hconcat": [
       {"width": 22, "height": 1, "data": {"name": "empty"}, "mark": "point"},
       {"width": 98, "height": 88, "view": {"stroke": "#555555"}, "layer": [
         {"data": {"name": "vc"}, "transform": [{"filter": "datum.set === 'y'"}], "mark": {"type": "point", "shape": "M-1,0A1,0.76,0,1,1,1,0A1,0.76,0,1,1,-1,0Z", "size": 2401, "filled": true, "color": "#f8ec3a", "opacity": 1, "strokeWidth": 0},
          "encoding": {"x": {"field": "x", "type": "quantitative", "scale": {"domain": [0, 100], "nice": false, "zero": false}, "axis": null}, "y": {"field": "y", "type": "quantitative", "scale": {"domain": [0, 90], "nice": false, "zero": false, "reverse": true}, "axis": null}}},
         {"data": {"name": "vc"}, "transform": [{"filter": "datum.set === 'c'"}], "mark": {"type": "point", "shape": "M-1,0A1,0.76,0,1,1,1,0A1,0.76,0,1,1,-1,0Z", "size": 2304, "filled": true, "color": "#2ad4ec", "opacity": 1, "strokeWidth": 0},
          "encoding": {"x": {"field": "x", "type": "quantitative"}, "y": {"field": "y", "type": "quantitative"}}},
         {"data": {"name": "vc"}, "transform": [{"filter": "datum.set === 'r'"}], "mark": {"type": "point", "shape": "M-1,0A1,0.76,0,1,1,1,0A1,0.76,0,1,1,-1,0Z", "size": 2704, "filled": true, "color": "#ea3a48", "opacity": 1, "strokeWidth": 0},
          "encoding": {"x": {"field": "x", "type": "quantitative"}, "y": {"field": "y", "type": "quantitative"}}},
         {"data": {"name": "vc"}, "transform": [{"filter": "datum.set === 'c'"}], "mark": {"type": "point", "shape": "M-1,0A1,0.76,0,1,1,1,0A1,0.76,0,1,1,-1,0Z", "size": 2304, "filled": true, "color": "#2ad4ec", "opacity": 0.5, "blend": "multiply", "strokeWidth": 0},
          "encoding": {"x": {"field": "x", "type": "quantitative"}, "y": {"field": "y", "type": "quantitative"}}},
         {"data": {"name": "vc"}, "transform": [{"filter": "datum.set === 'y'"}], "mark": {"type": "point", "shape": "M-1,0A1,0.76,0,1,1,1,0A1,0.76,0,1,1,-1,0Z", "size": 2401, "filled": true, "color": "#f8ec3a", "opacity": 0.7, "strokeWidth": 0},
          "encoding": {"x": {"field": "x", "type": "quantitative"}, "y": {"field": "y", "type": "quantitative"}}},
         {"data": {"name": "vt1"}, "mark": {"type": "text", "fontSize": 8.5, "color": "#000"},
          "encoding": {"x": {"field": "x", "type": "quantitative"}, "y": {"field": "y", "type": "quantitative"}, "text": {"field": "t"}}}
       ]}
     ], "spacing": 0, "bounds": "flush"}
   ], "spacing": 0, "bounds": "full"},
   {"width": 29, "height": 1, "data": {"name": "empty"}, "mark": "point"},
   {"width": 160, "height": 405, "layer": [
     {"data": {"name": "h1"}, "mark": {"type": "rect"}, "encoding": {
       "x": {"field": "s", "type": "nominal", "sort": null, "scale": {"domain": ["E11A","E11B","E13A","E13B","E15A","E15B","E18A","E18B"], "paddingInner": 0, "paddingOuter": 0}, "axis": {"title": null, "ticks": false, "domain": false, "labelAngle": -90, "labelAlign": "right", "labelBaseline": "middle", "labelPadding": 3, "labelFontSize": 10, "labelFont": "Liberation Sans"}},
       "y": {"field": "g", "type": "nominal", "sort": null, "scale": {"domain": ["Eif2b1","Eif1ad","Lgtn","Eif4e2","Brf1","Gtf3a","Mtfmt","Mtif2","Eif4e","Emd","Eif3l","Eif3e","Eif3k","Gtf2b","Eif3g","Eif3i","Trmt6","Eif1a","Eif4e3","Mtif3","Eif3c","Eif5","Eif3f","Eif3b","Eif3d","Eif2s2","Ccdc62","Eif1b","Eif3h","Eif1","Nlrp4b"], "paddingInner": 0, "paddingOuter": 0}, "axis": {"title": null, "ticks": false, "domain": false, "labelPadding": 2, "labelFontSize": 10, "labelFont": "Liberation Sans"}},
       "color": {"field": "v", "type": "quantitative", "scale": {"type": "linear", "domain": [-1.5, 0, 1.5], "range": ["#ffff00", "#ffffff", "#0000ff"], "interpolate": "rgb", "clamp": true}, "legend": null}}},
     {"data": {"values": [{"g": "Eif4e"}]}, "mark": {"type": "rect", "fill": null, "stroke": "#e5231b", "strokeWidth": 1.5}, "encoding": {
       "y": {"field": "g", "type": "nominal", "sort": null},
       "x": {"datum": "E11A", "bandPosition": -1.4},
       "x2": {"datum": "E18B", "bandPosition": 1.02}}}
   ]},
   {"width": 46, "height": 405, "data": {"name": "d1"}, "layer": [
     {"mark": {"type": "rule", "color": "#333333", "strokeWidth": 1}, "encoding": {"x": {"field": "h1", "type": "quantitative", "scale": {"domain": [-2, 44], "nice": false, "zero": false}, "axis": null}, "x2": {"field": "h"}, "y": {"field": "y1", "type": "quantitative", "scale": {"domain": [0, 31], "nice": false, "zero": false, "reverse": true}, "axis": null}}},
     {"mark": {"type": "rule", "color": "#333333", "strokeWidth": 1}, "encoding": {"x": {"field": "h2", "type": "quantitative"}, "x2": {"field": "h"}, "y": {"field": "y2", "type": "quantitative"}}},
     {"mark": {"type": "rule", "color": "#333333", "strokeWidth": 1}, "encoding": {"x": {"field": "h", "type": "quantitative"}, "y": {"field": "y1", "type": "quantitative"}, "y2": {"field": "y2"}}}
   ]}
 ], "spacing": 0, "bounds": "full"},
 {"width": 409, "height": 2, "data": {"name": "empty"}, "mark": "point", "view": {"stroke": "#9a9a9a"}},
 {"width": 1, "height": 1, "data": {"name": "empty"}, "mark": "point"},
 {"hconcat": [
   {"width": 0.01, "height": 373, "data": {"name": "empty"}, "mark": "point", "view": {"stroke": "#9a9a9a"}},
   {"vconcat": [
     {"width": 95, "height": 22, "data": {"values": [{"t": "elongation"}]}, "layer": [
       {"mark": {"type": "text", "align": "left", "baseline": "alphabetic", "font": "Open Sans", "fontSize": 18, "dx": 5, "dy": -5, "color": "#1a1a1a"},
        "encoding": {"text": {"field": "t"}, "x": {"datum": 0, "type": "quantitative", "scale": {"domain": [0, 1]}, "axis": null}, "y": {"datum": 0, "type": "quantitative", "scale": {"domain": [0, 1]}, "axis": null}}},
       {"mark": {"type": "rule", "color": "#8a8a8a", "strokeWidth": 1},
        "encoding": {"x": {"datum": 0.04, "type": "quantitative"}, "x2": {"datum": 1}, "y": {"datum": 0, "type": "quantitative"}}}
     ]},
     {"width": 1, "height": 54.5, "data": {"name": "empty"}, "mark": "point"},
     {"hconcat": [
       {"width": 25, "height": 1, "data": {"name": "empty"}, "mark": "point"},
       {"width": 97, "height": 55, "data": {"name": "k2"},
        "title": {"text": ["Color Key", "and Histogram"], "fontSize": 8, "fontWeight": "normal", "offset": 2, "lineHeight": 8, "anchor": "middle"},
        "layer": [
          {"mark": {"type": "rect", "clip": true}, "encoding": {
            "x": {"field": "z0", "type": "quantitative", "scale": {"domain": [-2.04, 2.0], "nice": false, "zero": false}, "axis": {"values": [-1, 0, 1], "title": "Row Z-Score", "tickSize": 3, "labelPadding": 1, "titlePadding": 2, "domain": false, "labelFontSize": 8, "titleFontSize": 8, "titleFontWeight": "normal", "labelFlush": false}},
            "x2": {"field": "z1"},
            "y": {"datum": 0, "type": "quantitative"}, "y2": {"datum": 13.5},
            "fill": {"field": "z0", "type": "quantitative", "scale": {"type": "linear", "domain": [-1.0, -0.35, 0.35, 1.0], "range": ["#ffff00", "#ffffff", "#ffffff", "#0000ff"], "interpolate": "rgb", "clamp": true}, "legend": null}}},
          {"mark": {"type": "line", "interpolate": "step-after", "color": "#00ffff", "strokeWidth": 1, "clip": true}, "encoding": {
            "x": {"field": "z0", "type": "quantitative"},
            "y": {"field": "n", "type": "quantitative", "scale": {"domain": [0, 13.5], "nice": false}, "axis": {"values": [0, 2, 4, 6, 8, 10, 12], "title": "Count", "tickSize": 3, "labelPadding": 1, "titlePadding": 2, "domain": false, "labelFontSize": 8, "titleFontSize": 8, "titleFontWeight": "normal", "labelAngle": -90, "labelAlign": "center", "labelBaseline": "bottom", "labelOverlap": false}}}}
        ]}
     ], "spacing": 0, "bounds": "flush"},
     {"width": 1, "height": 12, "data": {"name": "empty"}, "mark": "point"},
     {"hconcat": [
       {"width": 13, "height": 1, "data": {"name": "empty"}, "mark": "point"},
       {"width": 109, "height": 80, "view": {"stroke": "#555555"}, "layer": [
         {"data": {"name": "vc"}, "transform": [{"filter": "datum.set === 'y'"}], "mark": {"type": "point", "shape": "M-1,0A1,0.76,0,1,1,1,0A1,0.76,0,1,1,-1,0Z", "size": 2401, "filled": true, "color": "#f8ec3a", "opacity": 1, "strokeWidth": 0},
          "encoding": {"x": {"field": "x", "type": "quantitative", "scale": {"domain": [0, 100], "nice": false, "zero": false}, "axis": null}, "y": {"field": "y", "type": "quantitative", "scale": {"domain": [0, 90], "nice": false, "zero": false, "reverse": true}, "axis": null}}},
         {"data": {"name": "vc"}, "transform": [{"filter": "datum.set === 'c'"}], "mark": {"type": "point", "shape": "M-1,0A1,0.76,0,1,1,1,0A1,0.76,0,1,1,-1,0Z", "size": 2304, "filled": true, "color": "#2ad4ec", "opacity": 1, "strokeWidth": 0},
          "encoding": {"x": {"field": "x", "type": "quantitative"}, "y": {"field": "y", "type": "quantitative"}}},
         {"data": {"name": "vc"}, "transform": [{"filter": "datum.set === 'r'"}], "mark": {"type": "point", "shape": "M-1,0A1,0.76,0,1,1,1,0A1,0.76,0,1,1,-1,0Z", "size": 2704, "filled": true, "color": "#ea3a48", "opacity": 1, "strokeWidth": 0},
          "encoding": {"x": {"field": "x", "type": "quantitative"}, "y": {"field": "y", "type": "quantitative"}}},
         {"data": {"name": "vc"}, "transform": [{"filter": "datum.set === 'c'"}], "mark": {"type": "point", "shape": "M-1,0A1,0.76,0,1,1,1,0A1,0.76,0,1,1,-1,0Z", "size": 2304, "filled": true, "color": "#2ad4ec", "opacity": 0.5, "blend": "multiply", "strokeWidth": 0},
          "encoding": {"x": {"field": "x", "type": "quantitative"}, "y": {"field": "y", "type": "quantitative"}}},
         {"data": {"name": "vc"}, "transform": [{"filter": "datum.set === 'y'"}], "mark": {"type": "point", "shape": "M-1,0A1,0.76,0,1,1,1,0A1,0.76,0,1,1,-1,0Z", "size": 2401, "filled": true, "color": "#f8ec3a", "opacity": 0.7, "strokeWidth": 0},
          "encoding": {"x": {"field": "x", "type": "quantitative"}, "y": {"field": "y", "type": "quantitative"}}},
         {"data": {"name": "vt2"}, "mark": {"type": "text", "fontSize": 8.5, "color": "#000"},
          "encoding": {"x": {"field": "x", "type": "quantitative"}, "y": {"field": "y", "type": "quantitative"}, "text": {"field": "t"}}}
       ]}
     ], "spacing": 0, "bounds": "flush"}
   ], "spacing": 0, "bounds": "full"},
   {"width": 2, "height": 1, "data": {"name": "empty"}, "mark": "point"},
   {"width": 160, "height": 347, "layer": [
     {"data": {"name": "h2"}, "mark": {"type": "rect"}, "encoding": {
       "x": {"field": "s", "type": "nominal", "sort": null, "scale": {"domain": ["E11A","E11B","E13A","E13B","E15A","E15B","E18A","E18B"], "paddingInner": 0, "paddingOuter": 0}, "axis": {"title": null, "ticks": false, "domain": false, "labelAngle": -90, "labelAlign": "right", "labelBaseline": "middle", "labelPadding": 3, "labelFontSize": 10, "labelFont": "Liberation Sans"}},
       "y": {"field": "g", "type": "nominal", "sort": null, "scale": {"domain": ["Eftud1","Tut1","2210012G02Rik","Rplp0","Abtb1","Tcea2","Ell","Eef1d","Gfm1","Tceb3","Eefsec","Tsfm","Tceal1","Eef1a2","Eef1e1","Tcea1","Hbs1l","Elof1","Eftud2","Tceal8","Eef2","Tcea3","Tufm","Eif2ak2","2210012G02Rik\u200b","Tceal5","Ugt2b35"], "paddingInner": 0, "paddingOuter": 0}, "axis": {"title": null, "ticks": false, "domain": false, "labelPadding": 2, "labelFontSize": 10, "labelFont": "Liberation Sans"}},
       "color": {"field": "v", "type": "quantitative", "scale": {"type": "linear", "domain": [-1.5, 0, 1.5], "range": ["#ffff00", "#ffffff", "#0000ff"], "interpolate": "rgb", "clamp": true}, "legend": null}}},
     {"data": {"values": [{"g": "Eef2"}]}, "mark": {"type": "rect", "fill": null, "stroke": "#e5231b", "strokeWidth": 1.5}, "encoding": {
       "y": {"field": "g", "type": "nominal", "sort": null},
       "x": {"datum": "E11A", "bandPosition": -1.18},
       "x2": {"datum": "E18B", "bandPosition": 1.02}}}
   ]},
   {"width": 44, "height": 347, "data": {"name": "d2"}, "layer": [
     {"mark": {"type": "rule", "color": "#333333", "strokeWidth": 1}, "encoding": {"x": {"field": "h1", "type": "quantitative", "scale": {"domain": [-2, 42], "nice": false, "zero": false}, "axis": null}, "x2": {"field": "h"}, "y": {"field": "y1", "type": "quantitative", "scale": {"domain": [0, 27], "nice": false, "zero": false, "reverse": true}, "axis": null}}},
     {"mark": {"type": "rule", "color": "#333333", "strokeWidth": 1}, "encoding": {"x": {"field": "h2", "type": "quantitative"}, "x2": {"field": "h"}, "y": {"field": "y2", "type": "quantitative"}}},
     {"mark": {"type": "rule", "color": "#333333", "strokeWidth": 1}, "encoding": {"x": {"field": "h", "type": "quantitative"}, "y": {"field": "y1", "type": "quantitative"}, "y2": {"field": "y2"}}}
   ]}
 ], "spacing": 0, "bounds": "full"},
 {"width": 409, "height": 4, "data": {"name": "empty"}, "mark": "point", "view": {"stroke": "#9a9a9a"}},
 {"hconcat": [
   {"width": 0.01, "height": 260, "data": {"name": "empty"}, "mark": "point", "view": {"stroke": "#9a9a9a"}},
   {"vconcat": [
     {"width": 100, "height": 33, "data": {"values": [{"t": "termination"}]}, "layer": [
       {"mark": {"type": "text", "align": "left", "baseline": "alphabetic", "font": "Open Sans", "fontSize": 18, "dx": 4, "dy": -9, "color": "#1a1a1a"},
        "encoding": {"text": {"field": "t"}, "x": {"datum": 0, "type": "quantitative", "scale": {"domain": [0, 1]}, "axis": null}, "y": {"datum": 0, "type": "quantitative", "scale": {"domain": [0, 1]}, "axis": null}}},
       {"mark": {"type": "rule", "color": "#8a8a8a", "strokeWidth": 1},
        "encoding": {"x": {"datum": 0.08, "type": "quantitative"}, "x2": {"datum": 1}, "y": {"datum": 0, "type": "quantitative"}}}
     ]},
     {"width": 1, "height": 10.5, "data": {"name": "empty"}, "mark": "point"},
     {"hconcat": [
       {"width": 28, "height": 1, "data": {"name": "empty"}, "mark": "point"},
       {"width": 97, "height": 56, "data": {"name": "k3"},
        "title": {"text": ["Color Key", "and Histogram"], "fontSize": 8, "fontWeight": "normal", "offset": 2, "lineHeight": 8, "anchor": "middle"},
        "layer": [
          {"mark": {"type": "rect", "clip": true}, "encoding": {
            "x": {"field": "z0", "type": "quantitative", "scale": {"domain": [-2.0, 2.08], "nice": false, "zero": false}, "axis": {"values": [-2, -1, 0, 1, 2], "title": "Row Z-Score", "tickSize": 3, "labelPadding": 1, "titlePadding": 2, "domain": false, "labelFontSize": 8, "titleFontSize": 8, "titleFontWeight": "normal", "labelFlush": false}},
            "x2": {"field": "z1"},
            "y": {"datum": 0, "type": "quantitative"}, "y2": {"datum": 4.15},
            "fill": {"field": "z0", "type": "quantitative", "scale": {"type": "linear", "domain": [-1.0, -0.35, 0.35, 1.0], "range": ["#ffff00", "#ffffff", "#ffffff", "#0000ff"], "interpolate": "rgb", "clamp": true}, "legend": null}}},
          {"mark": {"type": "line", "interpolate": "step-after", "color": "#00ffff", "strokeWidth": 1, "clip": true}, "encoding": {
            "x": {"field": "z0", "type": "quantitative"},
            "y": {"field": "n", "type": "quantitative", "scale": {"domain": [0, 4.15], "nice": false}, "axis": {"values": [0, 1, 2, 3, 4], "title": "Count", "tickSize": 3, "labelPadding": 1, "titlePadding": 2, "domain": false, "labelFontSize": 8, "titleFontSize": 8, "titleFontWeight": "normal", "labelAngle": -90, "labelAlign": "center", "labelBaseline": "bottom", "labelOverlap": false}}}}
        ]}
     ], "spacing": 0, "bounds": "flush"},
     {"width": 1, "height": 26, "data": {"name": "empty"}, "mark": "point"},
     {"hconcat": [
       {"width": 17, "height": 1, "data": {"name": "empty"}, "mark": "point"},
       {"width": 97, "height": 90, "view": {"stroke": "#555555"}, "layer": [
         {"data": {"name": "vc"}, "transform": [{"filter": "datum.set === 'y'"}], "mark": {"type": "point", "shape": "M-1,0A1,0.76,0,1,1,1,0A1,0.76,0,1,1,-1,0Z", "size": 2401, "filled": true, "color": "#f8ec3a", "opacity": 1, "strokeWidth": 0},
          "encoding": {"x": {"field": "x", "type": "quantitative", "scale": {"domain": [0, 100], "nice": false, "zero": false}, "axis": null}, "y": {"field": "y", "type": "quantitative", "scale": {"domain": [0, 90], "nice": false, "zero": false, "reverse": true}, "axis": null}}},
         {"data": {"name": "vc"}, "transform": [{"filter": "datum.set === 'c'"}], "mark": {"type": "point", "shape": "M-1,0A1,0.76,0,1,1,1,0A1,0.76,0,1,1,-1,0Z", "size": 2304, "filled": true, "color": "#2ad4ec", "opacity": 1, "strokeWidth": 0},
          "encoding": {"x": {"field": "x", "type": "quantitative"}, "y": {"field": "y", "type": "quantitative"}}},
         {"data": {"name": "vc"}, "transform": [{"filter": "datum.set === 'r'"}], "mark": {"type": "point", "shape": "M-1,0A1,0.76,0,1,1,1,0A1,0.76,0,1,1,-1,0Z", "size": 2704, "filled": true, "color": "#ea3a48", "opacity": 1, "strokeWidth": 0},
          "encoding": {"x": {"field": "x", "type": "quantitative"}, "y": {"field": "y", "type": "quantitative"}}},
         {"data": {"name": "vc"}, "transform": [{"filter": "datum.set === 'c'"}], "mark": {"type": "point", "shape": "M-1,0A1,0.76,0,1,1,1,0A1,0.76,0,1,1,-1,0Z", "size": 2304, "filled": true, "color": "#2ad4ec", "opacity": 0.5, "blend": "multiply", "strokeWidth": 0},
          "encoding": {"x": {"field": "x", "type": "quantitative"}, "y": {"field": "y", "type": "quantitative"}}},
         {"data": {"name": "vc"}, "transform": [{"filter": "datum.set === 'y'"}], "mark": {"type": "point", "shape": "M-1,0A1,0.76,0,1,1,1,0A1,0.76,0,1,1,-1,0Z", "size": 2401, "filled": true, "color": "#f8ec3a", "opacity": 0.7, "strokeWidth": 0},
          "encoding": {"x": {"field": "x", "type": "quantitative"}, "y": {"field": "y", "type": "quantitative"}}},
         {"data": {"name": "vt3"}, "mark": {"type": "text", "fontSize": 8.5, "color": "#000"},
          "encoding": {"x": {"field": "x", "type": "quantitative"}, "y": {"field": "y", "type": "quantitative"}, "text": {"field": "t"}}}
       ]}
     ], "spacing": 0, "bounds": "flush"}
   ], "spacing": 0, "bounds": "full"},
   {"width": 13, "height": 1, "data": {"name": "empty"}, "mark": "point"},
   {"vconcat": [
     {"width": 1, "height": 106, "data": {"name": "empty"}, "mark": "point"},
     {"hconcat": [
       {"width": 158, "height": 63.5, "layer": [
         {"data": {"name": "h3"}, "mark": {"type": "rect"}, "encoding": {
           "x": {"field": "s", "type": "nominal", "sort": null, "scale": {"domain": ["E11A","E11B","E13A","E13B","E15A","E15B","E18A","E18B"], "paddingInner": 0, "paddingOuter": 0}, "axis": {"title": null, "ticks": false, "domain": false, "labelAngle": -90, "labelAlign": "right", "labelBaseline": "middle", "labelPadding": 3, "labelFontSize": 10, "labelFont": "Liberation Sans"}},
           "y": {"field": "g", "type": "nominal", "sort": null, "scale": {"domain": ["2810006K23Rik","Mtrf1","Mtrf1l","Etf1","Ict1"], "paddingInner": 0, "paddingOuter": 0}, "axis": {"title": null, "ticks": false, "domain": false, "labelPadding": 2, "labelFontSize": 10, "labelFont": "Liberation Sans"}},
           "color": {"field": "v", "type": "quantitative", "scale": {"type": "linear", "domain": [-1.5, 0, 1.5], "range": ["#ffff00", "#ffffff", "#0000ff"], "interpolate": "rgb", "clamp": true}, "legend": null}}},
         {"data": {"values": [{"g": "Etf1"}]}, "mark": {"type": "rect", "fill": null, "stroke": "#e5231b", "strokeWidth": 1.5}, "encoding": {
           "y": {"field": "g", "type": "nominal", "sort": null},
           "x": {"datum": "E11A", "bandPosition": -1.11},
           "x2": {"datum": "E18B", "bandPosition": 1.2}}}
       ]},
       {"width": 30.5, "height": 63.5, "data": {"name": "d3"}, "layer": [
         {"mark": {"type": "rule", "color": "#333333", "strokeWidth": 1}, "encoding": {"x": {"field": "h1", "type": "quantitative", "scale": {"domain": [-1.5, 29], "nice": false, "zero": false}, "axis": null}, "x2": {"field": "h"}, "y": {"field": "y1", "type": "quantitative", "scale": {"domain": [0, 5], "nice": false, "zero": false, "reverse": true}, "axis": null}}},
         {"mark": {"type": "rule", "color": "#333333", "strokeWidth": 1}, "encoding": {"x": {"field": "h2", "type": "quantitative"}, "x2": {"field": "h"}, "y": {"field": "y2", "type": "quantitative"}}},
         {"mark": {"type": "rule", "color": "#333333", "strokeWidth": 1}, "encoding": {"x": {"field": "h", "type": "quantitative"}, "y": {"field": "y1", "type": "quantitative"}, "y2": {"field": "y2"}}}
       ]}
     ], "spacing": 0, "bounds": "flush"}
   ], "spacing": 0, "bounds": "full"}
 ], "spacing": 0, "bounds": "full"}
]
}
